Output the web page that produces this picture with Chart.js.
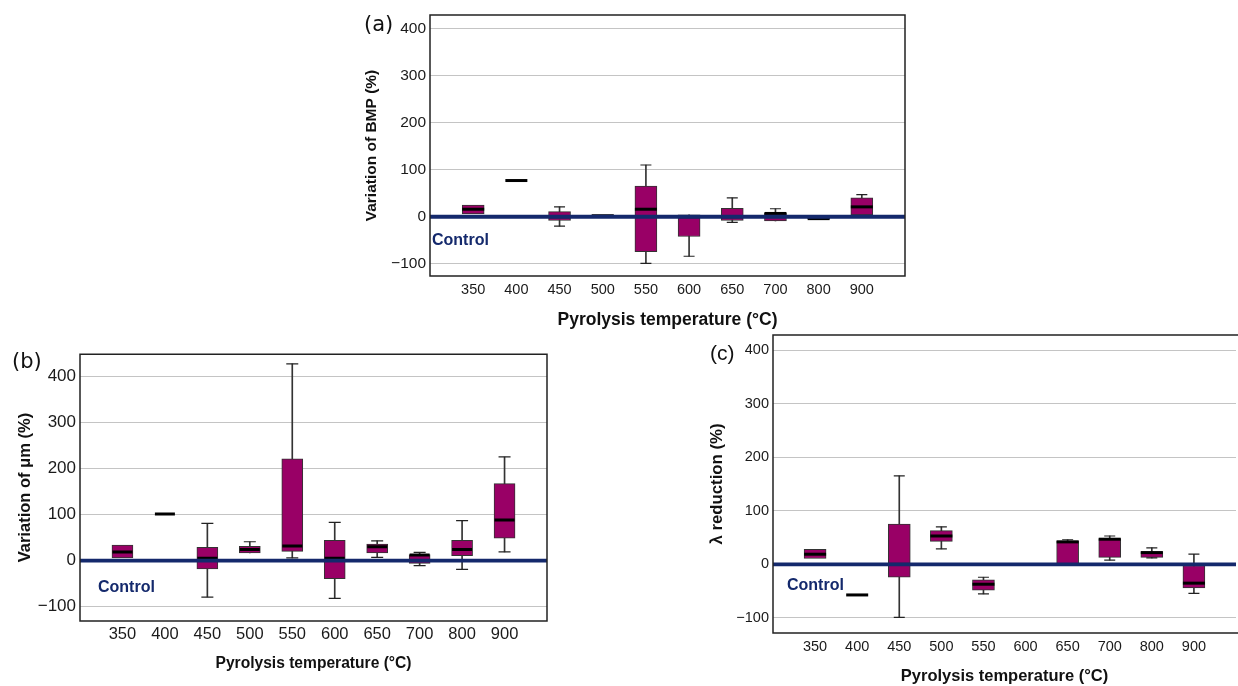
<!DOCTYPE html>
<html><head><meta charset="utf-8">
<script src="https://cdn.jsdelivr.net/npm/chart.js@4.4.1/dist/chart.umd.min.js"></script>
<style>
html,body{margin:0;padding:0;width:1238px;height:686px;overflow:hidden;background:#fff;position:relative;}
canvas{position:absolute;}
.lbl{position:absolute;font-family:"DejaVu Sans";font-size:21px;color:#111;line-height:1;white-space:nowrap;}
.ctl{position:absolute;font-family:"Liberation Sans",Arial,sans-serif;font-weight:bold;font-size:16px;color:#14296c;line-height:1;white-space:nowrap;}
</style></head><body>
<canvas id="ca" width="580" height="340" style="left:340px;top:0px"></canvas>
<canvas id="cb" width="560" height="346" style="left:0px;top:340px"></canvas>
<canvas id="cc" width="560" height="366" style="left:690px;top:320px"></canvas>
<div class="lbl" style="left:364px;top:14px">(a)</div>
<div class="lbl" style="left:12px;top:351px">(b)</div>
<div class="lbl" style="left:710px;top:342px;font-family:'Liberation Sans',Arial,sans-serif">(c)</div>
<div class="ctl" style="left:432px;top:232px">Control</div>
<div class="ctl" style="left:98px;top:579px">Control</div>
<div class="ctl" style="left:787px;top:577px">Control</div>
<script>
// ---- data ----
const TEMPS = ['350','400','450','500','550','600','650','700','800','900'];
const Y_TICKS = [-100, 0, 100, 200, 300, 400];
const CONTROL = [0,0,0,0,0,0,0,0,0,0,0,0];

// (a) Variation of BMP (%)
const A_Q1    = [6, null, -8, 0, -74, -42, -8, -9, -4, 4];
const A_Q3    = [25, null, 11, 4, 65, 4, 18, 7, 3, 40];
const A_MED   = [16, 77, 0, 2, 16, 0, 0, 7, -4, 21];
const A_WLOW  = [null, null, -20, null, -99, -84, -12, null, null, null];
const A_WHIGH = [null, null, 21, null, 110, null, 40, 17, null, 47];

// (b) Variation of μm (%)
const B_Q1    = [6, null, -18, 17, 20, -39, 17, -6, 11, 49];
const B_Q3    = [34, null, 29, 31, 221, 44, 36, 13, 44, 167];
const B_MED   = [19, 101, 5, 24, 32, 5, 30, 12, 24, 88];
const B_WLOW  = [null, null, -79, null, 6, -82, 7, -11, -19, 19];
const B_WHIGH = [null, null, 81, 41, 427, 83, 43, 18, 87, 225];

// (c) λ reduction (%)
const C_Q1    = [11, null, -24, 43, -48, null, 0, 13, 13, -44];
const C_Q3    = [28, null, 75, 63, -29, null, 44, 48, 24, -2];
const C_MED   = [19, -57, 0, 53, -37, null, 42, 47, 22, -35];
const C_WLOW  = [null, null, -99, 29, -55, null, null, 8, 12, -54];
const C_WHIGH = [null, null, 165, 70, -24, null, 46, 53, 31, 19];

// ---- drawing ----
const LABELS = ['', ...TEMPS, ''];
const pad = a => [null, ...a, null];
const NAVY = '#14296c', BOXC = '#990066';
const TICKFONT = "'Liberation Sans', Arial, sans-serif";

const framePlugin = {
  id: 'frame',
  afterDatasetsDraw(chart, args, opts) {
    const {ctx, chartArea: a} = chart;
    ctx.save();
    ctx.strokeStyle = '#222';
    ctx.lineWidth = 1.5;
    ctx.beginPath();
    if (opts.noRight) {
      ctx.moveTo(a.right + 2, a.top);
      ctx.lineTo(a.left, a.top);
      ctx.lineTo(a.left, a.bottom);
      ctx.lineTo(a.right + 2, a.bottom);
    } else {
      ctx.rect(a.left, a.top, a.right - a.left, a.bottom - a.top);
    }
    ctx.stroke();
    ctx.restore();
  }
};

function makeChart(id, o) {
  const boxes = o.q1.map((v, i) => v != null ? [v, o.q3[i]] : null);
  const stems = o.q1.map((v, i) => (o.wl[i] != null || o.wh[i] != null)
      ? [o.wl[i] != null ? o.wl[i] : o.q1[i], o.wh[i] != null ? o.wh[i] : o.q3[i]] : null);
  const capStyle = {type: 'line', showLine: false, pointStyle: 'line', pointRadius: o.capR,
    pointHoverRadius: o.capR, pointBorderWidth: 1.2, pointBorderColor: '#222', order: 1};
  new Chart(document.getElementById(id), {
    data: {
      labels: LABELS,
      datasets: [
        {type: 'line', data: CONTROL, borderColor: NAVY, borderWidth: 3.8, pointRadius: 0, order: 0},
        Object.assign({data: pad(o.wl)}, capStyle),
        Object.assign({data: pad(o.wh)}, capStyle),
        {type: 'line', data: pad(o.med), showLine: false, pointStyle: 'line', pointRadius: o.medR,
          pointHoverRadius: o.medR, pointBorderWidth: 3, pointBorderColor: '#000', order: 2},
        {type: 'bar', data: pad(boxes), backgroundColor: BOXC, borderColor: '#333', borderWidth: 1,
          borderSkipped: false, barThickness: o.barW, grouped: false, order: 3},
        {type: 'bar', data: pad(stems), backgroundColor: '#333', borderWidth: 0,
          barThickness: 1, grouped: false, order: 4}
      ]
    },
    options: {
      responsive: false, animation: false, devicePixelRatio: 1,
      layout: {padding: o.padding},
      plugins: {legend: {display: false}, tooltip: {enabled: false}, frame: {noRight: !!o.noRight}},
      scales: {
        x: {
          type: 'category', offset: false,
          grid: {display: false, drawTicks: false}, border: {display: false},
          ticks: {autoSkip: false, maxRotation: 0, padding: o.xPad, color: '#1a1a1a',
            font: {family: TICKFONT, size: o.xFont}},
          title: {display: true, text: 'Pyrolysis temperature (°C)', color: '#111',
            font: {family: TICKFONT, size: o.xTitleFont, weight: 'bold'}, padding: {top: 0, bottom: o.xTitlePad}},
          afterFit(s) { s.height = o.xH; }
        },
        y: {
          min: o.min, max: o.max,
          grid: {color: '#c4c4c4', lineWidth: 1, drawTicks: false}, border: {display: false},
          afterBuildTicks(s) { s.ticks = Y_TICKS.map(v => ({value: v})); },
          ticks: {padding: 4, color: '#1a1a1a', font: {family: TICKFONT, size: o.yFont},
            callback: v => String(v).replace('-', '\u2212')},
          title: {display: true, text: o.yTitle, color: '#111',
            font: {family: TICKFONT, size: o.yTitleFont, weight: 'bold'}, padding: {top: o.yTitlePad, bottom: 0}},
          afterFit(s) { s.width = o.yW; }
        }
      }
    },
    plugins: [framePlugin]
  });
}

makeChart('ca', {q1: A_Q1, q3: A_Q3, med: A_MED, wl: A_WLOW, wh: A_WHIGH,
  yTitle: 'Variation of BMP (%)', min: -126, max: 429, barW: 22, medR: 11, capR: 5.5,
  padding: {top: 15, right: 15, left: 0, bottom: 0}, yW: 90, xH: 64,
  xPad: 5, xFont: 14.5, yFont: 15.5, xTitleFont: 17.5, yTitleFont: 15.5, xTitlePad: 9.5, yTitlePad: 22.4});

makeChart('cb', {q1: B_Q1, q3: B_Q3, med: B_MED, wl: B_WLOW, wh: B_WHIGH,
  yTitle: 'Variation of \u03bcm (%)', min: -131, max: 448, barW: 21, medR: 10, capR: 6,
  padding: {top: 10, right: 12, left: 0, bottom: 0}, yW: 80, xH: 65,
  xPad: 4, xFont: 16.5, yFont: 17, xTitleFont: 15.6, yTitleFont: 16.5, xTitlePad: 12.6, yTitlePad: 15.5});

makeChart('cc', {q1: C_Q1, q3: C_Q3, med: C_MED, wl: C_WLOW, wh: C_WHIGH,
  yTitle: '\u03bb reduction (%)', min: -128, max: 428, barW: 22, medR: 11, capR: 5.5, noRight: true,
  padding: {top: 15, right: 12, left: 0, bottom: 0}, yW: 83, xH: 53,
  xPad: 5, xFont: 14.5, yFont: 14.5, xTitleFont: 16.5, yTitleFont: 16.8, xTitlePad: 0, yTitlePad: 17.4});
</script>
</body></html>
